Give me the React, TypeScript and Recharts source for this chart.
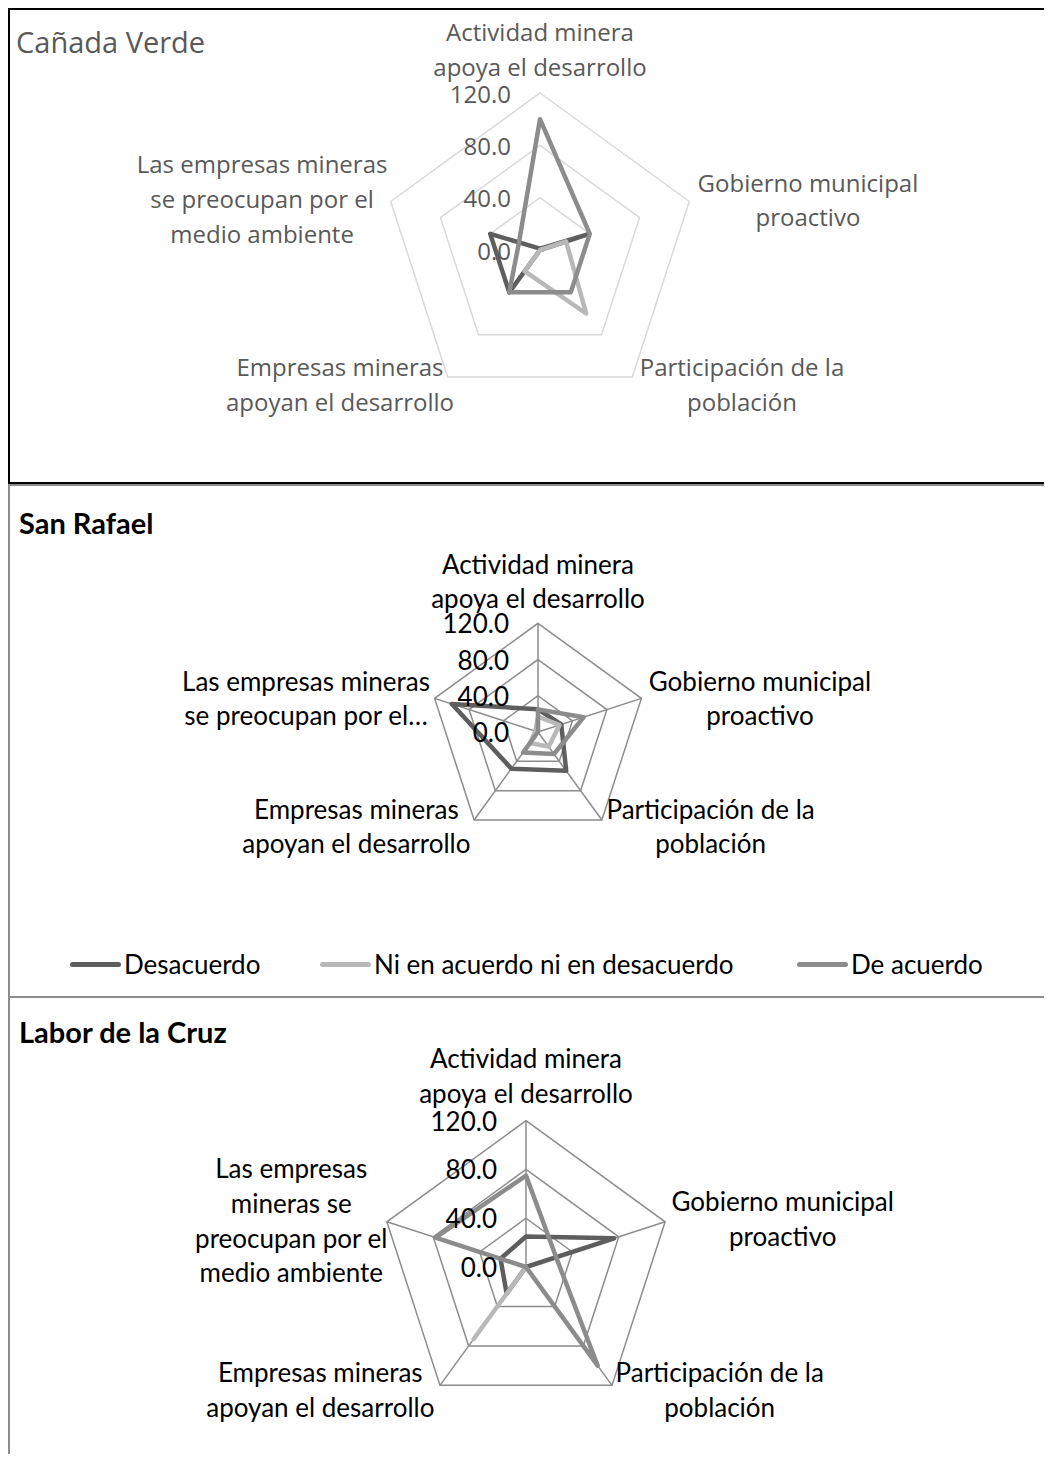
import React from 'react';
import { RadarChart, Radar, PolarGrid, PolarAngleAxis, PolarRadiusAxis, Legend } from 'recharts';

// ---------- data ----------
const categories = [
  'Actividad minera apoya el desarrollo',
  'Gobierno municipal proactivo',
  'Participación de la población',
  'Empresas mineras apoyan el desarrollo',
  'Las empresas mineras se preocupan por el medio ambiente',
];
const seriesNames = ['Desacuerdo', 'Ni en acuerdo ni en desacuerdo', 'De acuerdo'];
const radiusTicks = [0, 40, 80, 120];

const canadaDesacuerdo = [1, 39, 0, 40, 40];
const canadaNi = [0, 21, 60, 20, 0];
const canadaAcuerdo = [100, 40, 40, 40, 17];

const sanRafaelDesacuerdo = [25, 27, 53, 50, 100];
const sanRafaelNi = [17, 25, 20, 15, 3];
const sanRafaelAcuerdo = [25, 53, 30, 28, 0];

const laborDesacuerdo = [25, 76, 0, 27, 22];
const laborNi = [0, 0, 0, 73, 0];
const laborAcuerdo = [75, 26, 100, 0, 78];

const labelsCanada = [
  ['Actividad minera', 'apoya el desarrollo'],
  ['Gobierno municipal', 'proactivo'],
  ['Participación de la', 'población'],
  ['Empresas mineras', 'apoyan el desarrollo'],
  ['Las empresas mineras', 'se preocupan por el', 'medio ambiente'],
];
const labelsSanRafael = [
  ['Actividad minera', 'apoya el desarrollo'],
  ['Gobierno municipal', 'proactivo'],
  ['Participación de la', 'población'],
  ['Empresas mineras', 'apoyan el desarrollo'],
  ['Las empresas mineras', 'se preocupan por el…'],
];
const labelsLabor = [
  ['Actividad minera', 'apoya el desarrollo'],
  ['Gobierno municipal', 'proactivo'],
  ['Participación de la', 'población'],
  ['Empresas mineras', 'apoyan el desarrollo'],
  ['Las empresas', 'mineras se', 'preocupan por el', 'medio ambiente'],
];

// ---------- styling / layout ----------
const COLORS = ['#5e5e5e', '#b8b8b8', '#8c8c8c'];
const KEYS = ['desacuerdo', 'ni', 'acuerdo'];

type Off = { dx: number; dy: number[] };
const offCanada: Off[] = [
  { dx: 0, dy: [-54, -19] },
  { dx: 111, dy: [-17, 17] },
  { dx: 105, dy: [-17, 18] },
  { dx: -103, dy: [-17, 18] },
  { dx: -121, dy: [-36, -1, 34] },
];
const offSanRafael: Off[] = [
  { dx: 0, dy: [-51, -17] },
  { dx: 111, dy: [-15, 19] },
  { dx: 104, dy: [-17, 17] },
  { dx: -113, dy: [-17, 17] },
  { dx: -121, dy: [-15, 19] },
];
const offLabor: Off[] = [
  { dx: 0, dy: [-55, -20] },
  { dx: 110, dy: [-18, 17] },
  { dx: 103, dy: [-20, 15] },
  { dx: -115, dy: [-20, 15] },
  { dx: -88, dy: [-51, -16, 19, 53] },
];

function buildRows(d: number[], n: number[], a: number[]) {
  return categories.map((c, i) => ({ cat: c, desacuerdo: d[i], ni: n[i], acuerdo: a[i] }));
}

type TextStyle = { fontFamily: string; fontSize: number; fill: string };

function makeAngleTick(labels: string[][], offsets: Off[], ts: TextStyle) {
  return (props: any) => {
    const { x, y, payload } = props;
    let idx = categories.indexOf(payload?.value);
    if (idx < 0) idx = props.index ?? 0;
    const lines = labels[idx] || [];
    const off = offsets[idx];
    return (
      <g>
        {lines.map((ln, k) => (
          <text
            key={k}
            x={x + off.dx}
            y={y + off.dy[k]}
            textAnchor="middle"
            dominantBaseline="central"
            fontFamily={ts.fontFamily}
            fontSize={ts.fontSize}
            fill={ts.fill}
          >
            {ln}
          </text>
        ))}
      </g>
    );
  };
}

function makeRadiusTick(ts: TextStyle) {
  return (props: any) => {
    const { x, y, payload } = props;
    return (
      <text
        x={x - 29}
        y={y}
        textAnchor="end"
        dominantBaseline="central"
        fontFamily={ts.fontFamily}
        fontSize={ts.fontSize}
        fill={ts.fill}
      >
        {Number(payload.value).toFixed(1)}
      </text>
    );
  };
}

function LegendContent(props: any) {
  const raw = props.payload || [];
  const payload = [...raw].sort(
    (a: any, b: any) => seriesNames.indexOf(a.value) - seriesNames.indexOf(b.value)
  );
  const lefts = [62, 312, 789];
  return (
    <div style={{ position: 'relative', width: 1044, height: 30 }}>
      {payload.map((e: any, i: number) => (
        <div
          key={i}
          style={{
            position: 'absolute',
            left: lefts[i],
            top: 0,
            height: 30,
            display: 'flex',
            alignItems: 'center',
            whiteSpace: 'nowrap',
          }}
        >
          <div style={{ width: 51, height: 5, borderRadius: 3, background: e.color }} />
          <span style={{ marginLeft: 3, fontFamily: 'Lato', fontSize: 26, color: '#000' }}>{e.value}</span>
        </div>
      ))}
    </div>
  );
}

type PanelProps = {
  rows: any[];
  labels: string[][];
  offsets: Off[];
  cx: number;
  cy: number;
  r: number;
  width: number;
  height: number;
  gridColor: string;
  radialLines: boolean;
  ts: TextStyle;
  legend?: boolean;
};

function Panel(p: PanelProps) {
  return (
    <RadarChart
      width={p.width}
      height={p.height}
      data={p.rows}
      cx={p.cx}
      cy={p.cy}
      outerRadius={p.r}
      startAngle={90}
      endAngle={-270}
      margin={{ top: 0, right: 0, bottom: 0, left: 0 }}
    >
      <PolarGrid stroke={p.gridColor} strokeWidth={1.5} radialLines={p.radialLines} gridType="polygon" />
      <PolarAngleAxis dataKey="cat" tickLine={false} axisLine={false} tick={makeAngleTick(p.labels, p.offsets, p.ts)} />
      <PolarRadiusAxis
        angle={90}
        domain={[0, 120]}
        ticks={radiusTicks as any}
        tickCount={4}
        axisLine={false}
        tickLine={false}
        tick={makeRadiusTick(p.ts)}
      />
      {KEYS.map((k, i) => (
        <Radar
          key={k}
          name={seriesNames[i]}
          dataKey={k}
          stroke={COLORS[i]}
          strokeWidth={4.5}
          strokeLinejoin="round"
          fill="none"
          fillOpacity={0}
          dot={false}
          isAnimationActive={false}
        />
      ))}
      {p.legend ? (
        <Legend
          verticalAlign="bottom"
          wrapperStyle={{ position: 'absolute', left: 0, top: 466, width: 1044, height: 30 }}
          content={(lp: any) => <LegendContent {...lp} />}
        />
      ) : null}
    </RadarChart>
  );
}

const tsCanada: TextStyle = { fontFamily: 'Open Sans', fontSize: 24, fill: '#595959' };
const tsOther: TextStyle = { fontFamily: 'Lato', fontSize: 26, fill: '#000000' };

export default function App() {
  const rowsCanada = buildRows(canadaDesacuerdo, canadaNi, canadaAcuerdo);
  const rowsSan = buildRows(sanRafaelDesacuerdo, sanRafaelNi, sanRafaelAcuerdo);
  const rowsLabor = buildRows(laborDesacuerdo, laborNi, laborAcuerdo);
  return (
    <div style={{ position: 'relative', width: 1044, height: 1446, overflow: 'hidden', background: '#fff' }}>
      {/* panel frames */}
      <div style={{ position: 'absolute', left: 0, top: 0, width: 1042, height: 476, border: '2px solid #000', boxSizing: 'border-box' }} />
      <div style={{ position: 'absolute', left: 0, top: 476, width: 1042, height: 514, border: '2px solid #8c8c8c', boxSizing: 'border-box' }} />
      <div style={{ position: 'absolute', left: 0, top: 988, width: 1044, height: 470, borderTop: '2px solid #8c8c8c', borderLeft: '2px solid #8c8c8c', boxSizing: 'border-box' }} />

      {/* titles */}
      <div style={{ position: 'absolute', left: 8, top: 19, fontFamily: 'Open Sans', fontSize: 29, lineHeight: '29px', color: '#595959', whiteSpace: 'nowrap' }}>Cañada Verde</div>
      <div style={{ position: 'absolute', left: 11, top: 500, fontFamily: 'Lato', fontWeight: 700, fontSize: 29, lineHeight: '29px', color: '#000', whiteSpace: 'nowrap' }}>San Rafael</div>
      <div style={{ position: 'absolute', left: 11, top: 1009, fontFamily: 'Lato', fontWeight: 700, fontSize: 29, lineHeight: '29px', color: '#000', whiteSpace: 'nowrap' }}>Labor de la Cruz</div>

      <div style={{ position: 'absolute', left: 0, top: 0 }}>
        <Panel rows={rowsCanada} labels={labelsCanada} offsets={offCanada} cx={532} cy={242} r={157} width={1044} height={476} gridColor="#d9d9d9" radialLines={false} ts={tsCanada} />
      </div>
      <div style={{ position: 'absolute', left: 0, top: 475 }}>
        <Panel rows={rowsSan} labels={labelsSanRafael} offsets={offSanRafael} cx={530} cy={249} r={108.7} width={1044} height={514} gridColor="#8c8c8c" radialLines={true} ts={tsOther} legend />
      </div>
      <div style={{ position: 'absolute', left: 0, top: 989 }}>
        <Panel rows={rowsLabor} labels={labelsLabor} offsets={offLabor} cx={518} cy={270} r={146.3} width={1044} height={457} gridColor="#8c8c8c" radialLines={true} ts={tsOther} />
      </div>
    </div>
  );
}
